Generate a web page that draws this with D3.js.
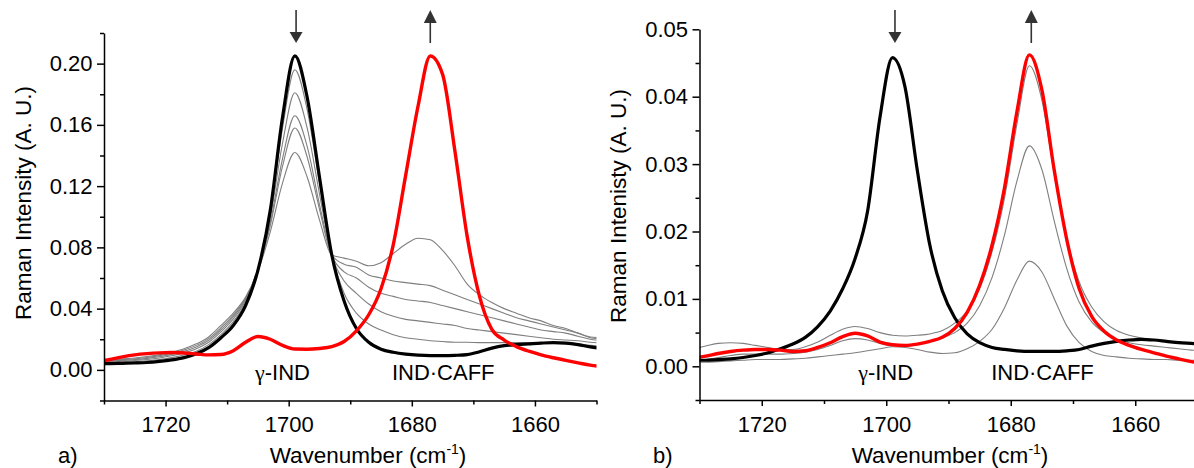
<!DOCTYPE html>
<html>
<head>
<meta charset="utf-8">
<script src="https://cdn.jsdelivr.net/npm/d3@7/dist/d3.min.js"></script>
<style>
  body { margin: 0; background: #fff; }
  text { font-family: "Liberation Sans", Arial, sans-serif; fill: #000; }
</style>
</head>
<body>
<div id="chart"></div>
<script>
// sampling grid (cm-1), shared by every spectrum
const wavenumber = [1731, 1729, 1727, 1725, 1723, 1721, 1719, 1717, 1715, 1713, 1711, 1709, 1707, 1705,
  1703, 1701, 1699, 1697, 1695, 1693, 1691, 1689, 1687, 1685, 1683, 1681, 1679, 1677,
  1675, 1673, 1671, 1669, 1667, 1665, 1663, 1661, 1659, 1657, 1655, 1653, 1651, 1649];

// panel a) spectra
const aBlack = [.0040, .0041, .0043, .0045, .0048, .0055, .0065, .0080, .0105, .0145, .0210, .0290, .0420, .0650,
  .1040, .1650, .2050, .1780, .1260, .0750, .0450, .0270, .0180, .0135, .0115, .0103, .0096, .0093,
  .0093, .0095, .0100, .0118, .0142, .0158, .0165, .0170, .0175, .0178, .0175, .0165, .0150, .0140];
const aRed = [.0055, .0068, .0085, .0098, .0106, .0111, .0113, .0110, .0104, .0098, .0100, .0125, .0180, .0218,
  .0200, .0160, .0136, .0135, .0140, .0152, .0185, .0255, .0360, .0530, .0820, .1270, .1720, .2050,
  .1930, .1430, .0870, .0480, .0265, .0195, .0152, .0122, .0098, .0079, .0062, .0046, .0031, .0022];
const aGray1 = [.0045, .0047, .0050, .0054, .0060, .0068, .0080, .0097, .0122, .0165, .0230, .0315, .0440, .0660,
  .1020, .1580, .1960, .1700, .1220, .0760, .0500, .0370, .0300, .0260, .0230, .0210, .0200, .0190,
  .0185, .0180, .0180, .0178, .0178, .0178, .0178, .0178, .0178, .0178, .0175, .0170, .0160, .0155];
const aGray2 = [.0050, .0052, .0056, .0061, .0068, .0078, .0092, .0111, .0138, .0180, .0248, .0333, .0452, .0660,
  .0990, .1480, .1810, .1580, .1150, .0750, .0580, .0500, .0430, .0380, .0350, .0330, .0320, .0310,
  .0300, .0290, .0270, .0260, .0250, .0240, .0230, .0220, .0210, .0200, .0195, .0190, .0180, .0175];
const aGray3 = [.0055, .0057, .0062, .0067, .0075, .0086, .0101, .0121, .0150, .0193, .0262, .0347, .0462, .0655,
  .0960, .1380, .1660, .1460, .1080, .0750, .0640, .0600, .0540, .0500, .0480, .0460, .0450, .0440,
  .0420, .0400, .0380, .0360, .0340, .0320, .0300, .0280, .0260, .0250, .0240, .0220, .0200, .0190];
const aGray4 = [.0060, .0062, .0067, .0073, .0081, .0093, .0109, .0130, .0160, .0204, .0275, .0358, .0468, .0650,
  .0940, .1330, .1580, .1390, .1050, .0750, .0690, .0670, .0620, .0600, .0580, .0570, .0560, .0550,
  .0520, .0490, .0460, .0430, .0400, .0370, .0340, .0320, .0300, .0280, .0260, .0240, .0210, .0200];
const aGray5 = [.0065, .0068, .0072, .0078, .0087, .0099, .0116, .0138, .0170, .0215, .0290, .0370, .0475, .0645,
  .0900, .1220, .1420, .1260, .0980, .0750, .0730, .0710, .0680, .0700, .0760, .0820, .0860, .0850,
  .0780, .0680, .0560, .0490, .0440, .0400, .0370, .0340, .0320, .0290, .0270, .0240, .0215, .0210];

// panel b) spectra
const bBlack = [.0009, .0009, .0010, .0011, .0013, .0016, .0020, .0026, .0033, .0043, .0059, .0082, .0115, .0160,
  .0230, .0370, .0458, .0415, .0290, .0180, .0112, .0072, .0048, .0035, .0028, .0025, .0023, .0022,
  .0022, .0022, .0023, .0025, .0030, .0034, .0037, .0039, .0040, .0039, .0037, .0035, .0034, .0033];
const bRed = [.0012, .0015, .0019, .0022, .0024, .0025, .0025, .0024, .0022, .0023, .0028, .0035, .0044, .0049,
  .0045, .0036, .0032, .0031, .0033, .0037, .0043, .0056, .0080, .0120, .0180, .0265, .0378, .0462,
  .0410, .0290, .0188, .0115, .0074, .0052, .0039, .0031, .0025, .0020, .0015, .0011, .0007, .0005];
const bGray1 = [.0026, .0030, .0034, .0035, .0034, .0031, .0028, .0025, .0025, .0029, .0036, .0046, .0055, .0059,
  .0056, .0050, .0046, .0045, .0046, .0048, .0053, .0064, .0082, .0115, .0170, .0250, .0360, .0446,
  .0395, .0285, .0190, .0125, .0088, .0066, .0053, .0046, .0042, .0039, .0037, .0035, .0033, .0032];
const bGray2 = [.0008, .0010, .0013, .0016, .0018, .0018, .0018, .0018, .0019, .0021, .0025, .0031, .0038, .0041,
  .0039, .0034, .0031, .0031, .0033, .0037, .0042, .0050, .0064, .0090, .0132, .0195, .0275, .0327,
  .0292, .0215, .0145, .0095, .0066, .0050, .0040, .0035, .0032, .0030, .0028, .0026, .0024, .0023];
const bGray3 = [.0006, .0006, .0007, .0008, .0009, .0010, .0010, .0010, .0011, .0012, .0014, .0016, .0018, .0020,
  .0023, .0026, .0029, .0028, .0025, .0021, .0019, .0020, .0026, .0037, .0055, .0087, .0128, .0156,
  .0140, .0100, .0060, .0035, .0022, .0016, .0014, .0012, .0011, .0010, .0010, .0009, .0009, .0009];

// axis ticks
const xMajor = [1720, 1700, 1680, 1660];
const xMinor = [1730, 1710, 1690, 1670, 1650];
const aYMajor = [0, 0.04, 0.08, 0.12, 0.16, 0.20];
const aYMinor = [-0.02, 0.02, 0.06, 0.10, 0.14, 0.18, 0.22];
const bYMajor = [0, 0.01, 0.02, 0.03, 0.04, 0.05];
const bYMinor = [-0.005, 0.005, 0.015, 0.025, 0.035, 0.045];

const panels = [
  {
    tag: "a)", tagX: 58, left: 104, right: 596.5, top: 33, bottom: 400.5,
    yDomain: [-0.02, 0.22], yMajor: aYMajor, yMinor: aYMinor,
    grays: [aGray1, aGray2, aGray3, aGray4, aGray5], black: aBlack, red: aRed,
    yLabel: "Raman Intensity (A. U.)", yLabelX: 31, yLabelY: 203, xLabelX: 368,
    arrows: [1698.8, 1677.0], labels: [1701.0, 1674.9]
  },
  {
    tag: "b)", tagX: 653, left: 699.5, right: 1197.5, top: 29.3, bottom: 400,
    yDomain: [-0.005, 0.05], yMajor: bYMajor, yMinor: bYMinor,
    grays: [bGray1, bGray2, bGray3], black: bBlack, red: bRed,
    yLabel: "Raman Intenisty (A. U.)", yLabelX: 626, yLabelY: 206, xLabelX: 950,
    arrows: [1698.6, 1676.7], labels: [1700.1, 1674.9]
  }
];

const svg = d3.select("#chart")
  .append("svg")
  .attr("width", 1194)
  .attr("height", 468);

panels.forEach(function (p, i) {
  const x = d3.scaleLinear().domain([1730, 1650]).range([p.left, p.right]);
  const y = d3.scaleLinear().domain(p.yDomain).range([p.bottom, p.top]);

  const clipId = "clip" + i;
  svg.append("clipPath").attr("id", clipId)
    .append("rect")
    .attr("x", p.left).attr("y", 0)
    .attr("width", p.right - p.left).attr("height", p.bottom);

  const line = d3.line()
    .x((d, j) => x(wavenumber[j]))
    .y((d) => y(d))
    .curve(d3.curveMonotoneX);

  const g = svg.append("g").attr("clip-path", `url(#${clipId})`);

  // thin grey intermediate spectra
  p.grays.forEach(function (s) {
    g.append("path").datum(s)
      .attr("d", line)
      .attr("fill", "none")
      .attr("stroke", "#7f7f7f")
      .attr("stroke-width", 1.1);
  });
  g.append("path").datum(p.black)
    .attr("d", line)
    .attr("fill", "none")
    .attr("stroke", "#000")
    .attr("stroke-width", 3.2)
    .attr("stroke-linejoin", "round");
  g.append("path").datum(p.red)
    .attr("d", line)
    .attr("fill", "none")
    .attr("stroke", "#ff0000")
    .attr("stroke-width", 3.4)
    .attr("stroke-linejoin", "round");

  // x axis: major with labels, minor without
  const xAxis = svg.append("g")
    .attr("transform", `translate(0,${p.bottom})`)
    .call(d3.axisBottom(x).tickValues(xMajor).tickSize(6).tickSizeOuter(0).tickPadding(10).tickFormat(d3.format("d")));
  svg.append("g")
    .attr("transform", `translate(0,${p.bottom})`)
    .call(d3.axisBottom(x).tickValues(xMinor).tickSize(4).tickFormat(""))
    .select(".domain").remove();

  // y axis
  const yAxis = svg.append("g")
    .attr("transform", `translate(${p.left},0)`)
    .call(d3.axisLeft(y).tickValues(p.yMajor).tickSize(7).tickSizeOuter(0).tickPadding(4.5).tickFormat(d3.format(".2f")));
  svg.append("g")
    .attr("transform", `translate(${p.left},0)`)
    .call(d3.axisLeft(y).tickValues(p.yMinor).tickSize(4).tickFormat(""))
    .select(".domain").remove();

  svg.selectAll(".domain, .tick line")
    .attr("stroke", "#000")
    .attr("stroke-width", 1.5);
  [xAxis, yAxis].forEach(function (ax) {
    ax.selectAll("text")
      .style("font-family", '"Liberation Sans", Arial, sans-serif')
      .style("font-size", "22px")
      .attr("fill", "#000");
  });

  // axis titles
  svg.append("text")
    .attr("transform", `translate(${p.yLabelX},${p.yLabelY}) rotate(-90)`)
    .attr("text-anchor", "middle")
    .style("font-size", "22.5px")
    .text(p.yLabel);

  const xt = svg.append("text")
    .attr("x", p.xLabelX)
    .attr("y", 463)
    .attr("text-anchor", "middle")
    .style("font-size", "22.5px");
  xt.append("tspan").text("Wavenumber (cm");
  xt.append("tspan").attr("dy", -9).style("font-size", "14px").text("-1");
  xt.append("tspan").attr("dy", 9).text(")");

  svg.append("text")
    .attr("x", p.tagX)
    .attr("y", 463)
    .style("font-size", "22px")
    .text(p.tag);

  // band labels
  const ly = p.bottom - 20.5;
  const gam = svg.append("text")
    .attr("x", x(p.labels[0]))
    .attr("y", ly)
    .attr("text-anchor", "middle")
    .style("font-size", "22px");
  gam.append("tspan").style("font-family", '"Liberation Serif", "DejaVu Serif", serif').text("γ");
  gam.append("tspan").text("-IND");

  svg.append("text")
    .attr("x", x(p.labels[1]))
    .attr("y", ly)
    .attr("text-anchor", "middle")
    .style("font-size", "22px")
    .text("IND·CAFF");

  // down arrow over the γ band, up arrow over the co-crystal band
  const ax0 = x(p.arrows[0]);
  svg.append("line")
    .attr("x1", ax0).attr("x2", ax0)
    .attr("y1", 10).attr("y2", 34)
    .attr("stroke", "#333").attr("stroke-width", 1.6);
  svg.append("path")
    .attr("d", `M${ax0 - 6.5},32L${ax0 + 6.5},32L${ax0},43Z`)
    .attr("fill", "#333");

  const ax1 = x(p.arrows[1]);
  svg.append("line")
    .attr("x1", ax1).attr("x2", ax1)
    .attr("y1", 21).attr("y2", 43)
    .attr("stroke", "#333").attr("stroke-width", 1.6);
  svg.append("path")
    .attr("d", `M${ax1 - 6.5},23L${ax1 + 6.5},23L${ax1},10Z`)
    .attr("fill", "#333");
});
</script>
</body>
</html>
